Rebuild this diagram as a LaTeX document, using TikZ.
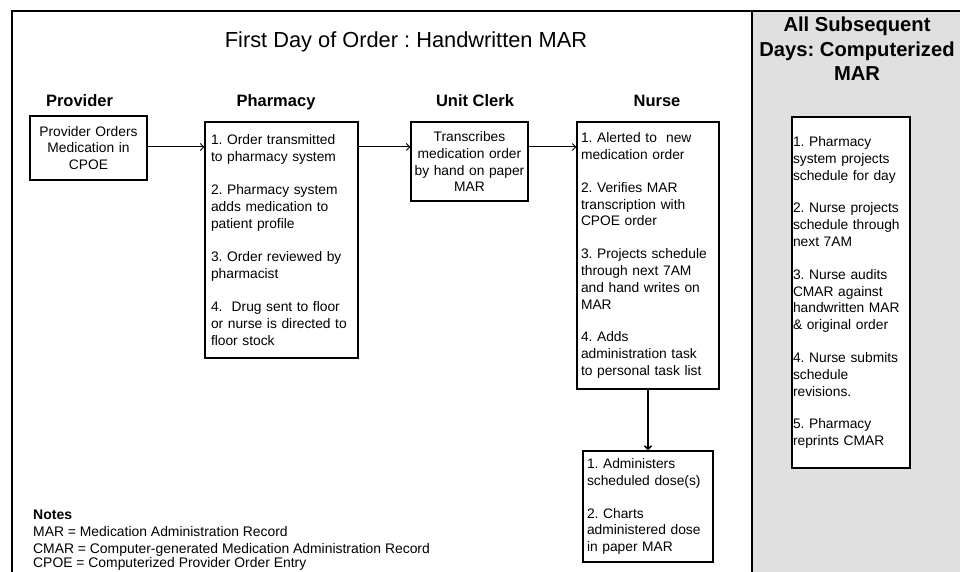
\documentclass[tikz,border=0pt]{standalone}
\usepackage{fontspec}
\setmainfont{Liberation Sans}
\usetikzlibrary{arrows.meta}
\frenchspacing
\newcommand{\bodyfont}{\fontsize{13.8}{16.8}\selectfont}
\tikzset{
  x=1pt, y=-1pt,
  box/.style={draw=black, line width=1.1pt, rectangle, inner ysep=0pt, font=\bodyfont},
  lbox/.style={box, align=left},
  cbox/.style={box, align=center},
  header/.style={font=\fontsize{16.5}{19}\selectfont\bfseries, anchor=base, inner sep=0pt},
  note/.style={font=\fontsize{13.9}{16}\selectfont, anchor=base west, inner sep=0pt},
  flow/.style={line width=1pt, -{Straight Barb[length=3.5pt,width=7pt]}},
}
\begin{document}
\begin{tikzpicture}
\useasboundingbox (0,0) rectangle (960,572);
\clip (0,0) rectangle (960,572);
% panels
\fill[gray!24] (752,11) rectangle (960,572);
\draw[line width=1.4pt] (12,572) -- (12,11) -- (960,11);
\draw[line width=1.4pt] (752,11) -- (752,572);

% titles
\node[font=\fontsize{21.8}{25}\selectfont, anchor=base, inner sep=0pt] (title) at (406,48) {First Day of Order : Handwritten MAR};
\node[font=\fontsize{20.2}{24.5}\selectfont\bfseries, align=center, anchor=north, inner sep=0pt] (rtitle) at (857,17) {All Subsequent\\Days: Computerized\\MAR};

% headers
\node[header] (hprov) at (79.5,107) {Provider};
\node[header] (hpharm) at (276,107) {Pharmacy};
\node[header] (hclerk) at (475,107) {Unit Clerk};
\node[header] (hnurse) at (657,107) {Nurse};

% boxes
\node[cbox, text width=111pt, inner xsep=3pt, minimum height=64pt] (prov) at (88.5,148)
  {\fontsize{13.8}{16.5}\selectfont Provider Orders\\Medication in\\CPOE};

\node[lbox, text width=141pt, inner xsep=6pt, minimum height=236pt] (pharm) at (281.5,240)
  {\fontsize{13.8}{17}\selectfont 1. Order transmitted\\to pharmacy system\\[16pt]2. Pharmacy system\\adds medication to\\patient profile\\[16pt]3. Order reviewed by\\pharmacist\\[16pt]4.~~Drug sent to floor\\or nurse is directed to\\floor stock};

\node[cbox, text width=113pt, inner xsep=2pt, minimum height=79pt] (clerk) at (469.5,161.5)
  {\fontsize{13.8}{17}\selectfont Transcribes\\medication order\\by hand on paper\\MAR};

\node[lbox, text width=134pt, inner xsep=4pt, minimum height=267pt] (nurse) at (648,255.5)
  {1. Alerted to~~new\\medication order\\[16pt]2. Verifies MAR\\transcription with\\CPOE order\\[16pt]3. Projects schedule\\through next 7AM\\and hand writes on\\MAR\\[16pt]4. Adds\\administration task\\to personal task list};

\node[lbox, text width=122pt, inner xsep=4pt, minimum height=111pt] (admin) at (648,506.5)
  {1. Administers\\scheduled dose(s)\\[16pt]2. Charts\\administered dose\\in paper MAR};

\node[lbox, fill=white, text width=116pt, inner xsep=1pt, minimum height=351pt] (cmar) at (851,292.5)
  {1. Pharmacy\\system projects\\schedule for day\\[16pt]2. Nurse projects\\schedule through\\next 7AM\\[16pt]3. Nurse audits\\CMAR against\\handwritten MAR\\\& original order\\[16pt]4. Nurse submits\\schedule\\revisions.\\[16pt]5. Pharmacy\\reprints CMAR};

% connectors
\coordinate (ay) at (0,147);
\draw[flow] (prov.east |- ay) -- (pharm.west |- ay);
\draw[flow] (pharm.east |- ay) -- (clerk.west |- ay);
\draw[flow] (clerk.east |- ay) -- (nurse.west |- ay);
\draw[flow, line width=1.6pt] (nurse.south) -- (admin.north);

% notes
\node[note, font=\fontsize{14}{16}\selectfont\bfseries] (notes) at (33,519) {Notes};
\node[note] (n1) at (33,536.5) {MAR = Medication Administration Record};
\node[note] (n2) at (33,553.5) {CMAR = Computer-generated Medication Administration Record};
\node[note] (n3) at (33,567.5) {CPOE = Computerized Provider Order Entry};
\end{tikzpicture}
\end{document}
